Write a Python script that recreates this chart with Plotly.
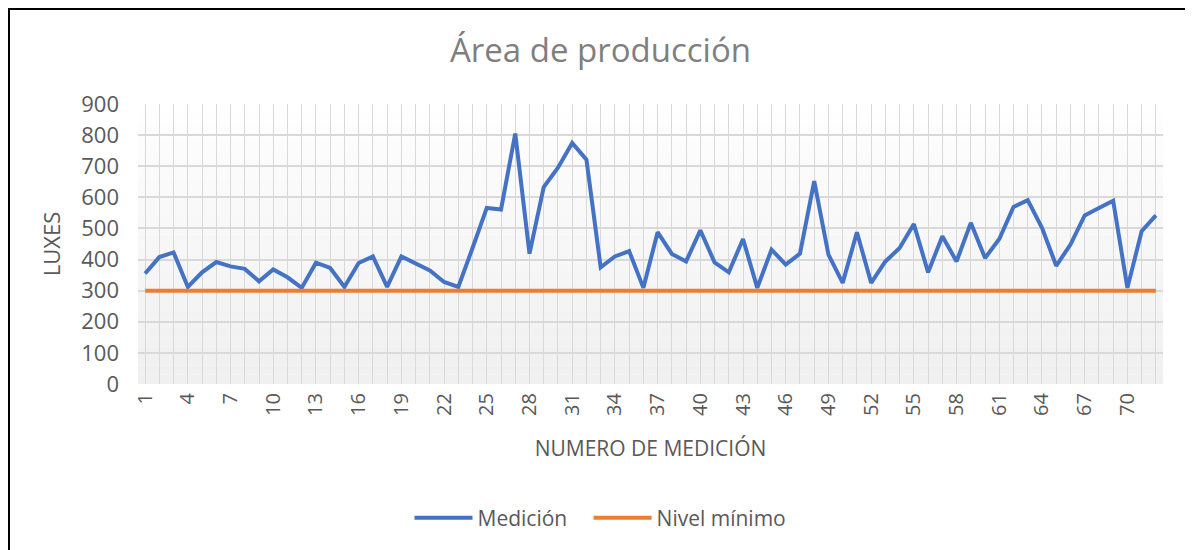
import plotly.graph_objects as go

# ─── Dados ────────────────────────────────────────────────────────────────
medicion_n = list(range(1, 73))
medicion = [
    355, 408, 423, 312, 359, 392, 378, 370, 330, 368,
    343, 309, 390, 373, 312, 389, 410, 312, 410, 387,
    365, 328, 312, 437, 566, 561, 805, 419, 633, 695,
    775, 721, 375, 410, 427, 309, 488, 418, 394, 494,
    391, 359, 466, 309, 432, 384, 419, 652, 416, 325,
    488, 325, 394, 437, 514, 359, 475, 394, 518, 405,
    466, 569, 591, 502, 380, 448, 542, 566, 589, 309,
    491, 542,
]
nivel_minimo = [300] * len(medicion_n)
x_ticks = list(range(1, 73, 3))
y_ticks = list(range(0, 1000, 100))

AZUL = "#4472C4"
LARANJA = "#ED7D31"
TEXTO = "#595959"
GRADE = "#D9D9D9"
FONTE = "Open Sans, Lato, sans-serif"

# a página desloca a figura em ~8px (margem do body)
W, H = 1185, 542
M = dict(l=130, r=30, t=96, b=166)
PW = W - M["l"] - M["r"]
PH = H - M["t"] - M["b"]


def px_x(px):
    """pixel da figura -> coordenada paper (eixo x)"""
    return (px - M["l"]) / PW


def px_y(px):
    """pixel da figura (a partir do topo) -> coordenada paper (eixo y)"""
    return (H - M["b"] - px) / PH


fig = go.Figure()
fig.add_trace(go.Scatter(
    x=medicion_n, y=medicion, mode="lines",
    name="Medición\u00a0\u00a0\u00a0",
    line=dict(color=AZUL, width=4),
))
fig.add_trace(go.Scatter(
    x=medicion_n, y=nivel_minimo, mode="lines", name="Nivel mínimo",
    line=dict(color=LARANJA, width=4),
))

# fundo em degradê (branco no topo -> cinza claro embaixo)
n_faixas = 30
for i in range(n_faixas):
    t = i / (n_faixas - 1)
    c = int(255 - 15 * (1 - t))
    fig.add_shape(
        type="rect", xref="paper", yref="paper", layer="below",
        x0=0, x1=1, y0=i / n_faixas, y1=(i + 1) / n_faixas,
        fillcolor=f"rgb({c},{c},{c})", line_width=0,
    )

# moldura do gráfico
fig.add_shape(
    type="rect", xref="paper", yref="paper",
    x0=px_x(1), x1=px_x(1182), y0=px_y(H + 20), y1=px_y(1),
    line=dict(color="black", width=2), fillcolor="rgba(0,0,0,0)",
)

fig.update_layout(
    width=W, height=H,
    paper_bgcolor="white", plot_bgcolor="white",
    margin=M,
    font=dict(family=FONTE, color=TEXTO, size=20),
    title=dict(
        text="Área de producción", x=0.5, xref="container", xanchor="center",
        y=1 - 42 / H, yref="container", yanchor="middle",
        font=dict(size=33, color="#7F7F7F"),
    ),
    xaxis=dict(
        range=[0.5, 72.5], tickvals=x_ticks, ticktext=[str(v) for v in x_ticks],
        tickangle=-90, showgrid=True, gridcolor=GRADE, gridwidth=1,
        minor=dict(dtick=1, tick0=1, showgrid=True, gridcolor=GRADE, gridwidth=1),
        zeroline=False, showline=False, ticks="",
        ticklabelstandoff=4,
        title=dict(text="NUMERO DE MEDICIÓN", standoff=26, font=dict(size=21)),
        tickfont=dict(size=20),
    ),
    yaxis=dict(
        range=[0, 900], tickvals=y_ticks, showgrid=True, gridcolor=GRADE,
        gridwidth=1.5, zeroline=False, showline=False, ticks="",
        ticklabelstandoff=18,
        title=dict(text="LUXES", standoff=14, font=dict(size=22)),
        tickfont=dict(size=22),
    ),
    showlegend=True,
    legend=dict(
        orientation="h", x=0.5, xref="container", xanchor="center",
        y=1 - 510 / H, yref="container", yanchor="middle",
        itemwidth=58, font=dict(size=21, color=TEXTO),
        bgcolor="rgba(0,0,0,0)",
    ),
)

fig.write_html("out.html")
